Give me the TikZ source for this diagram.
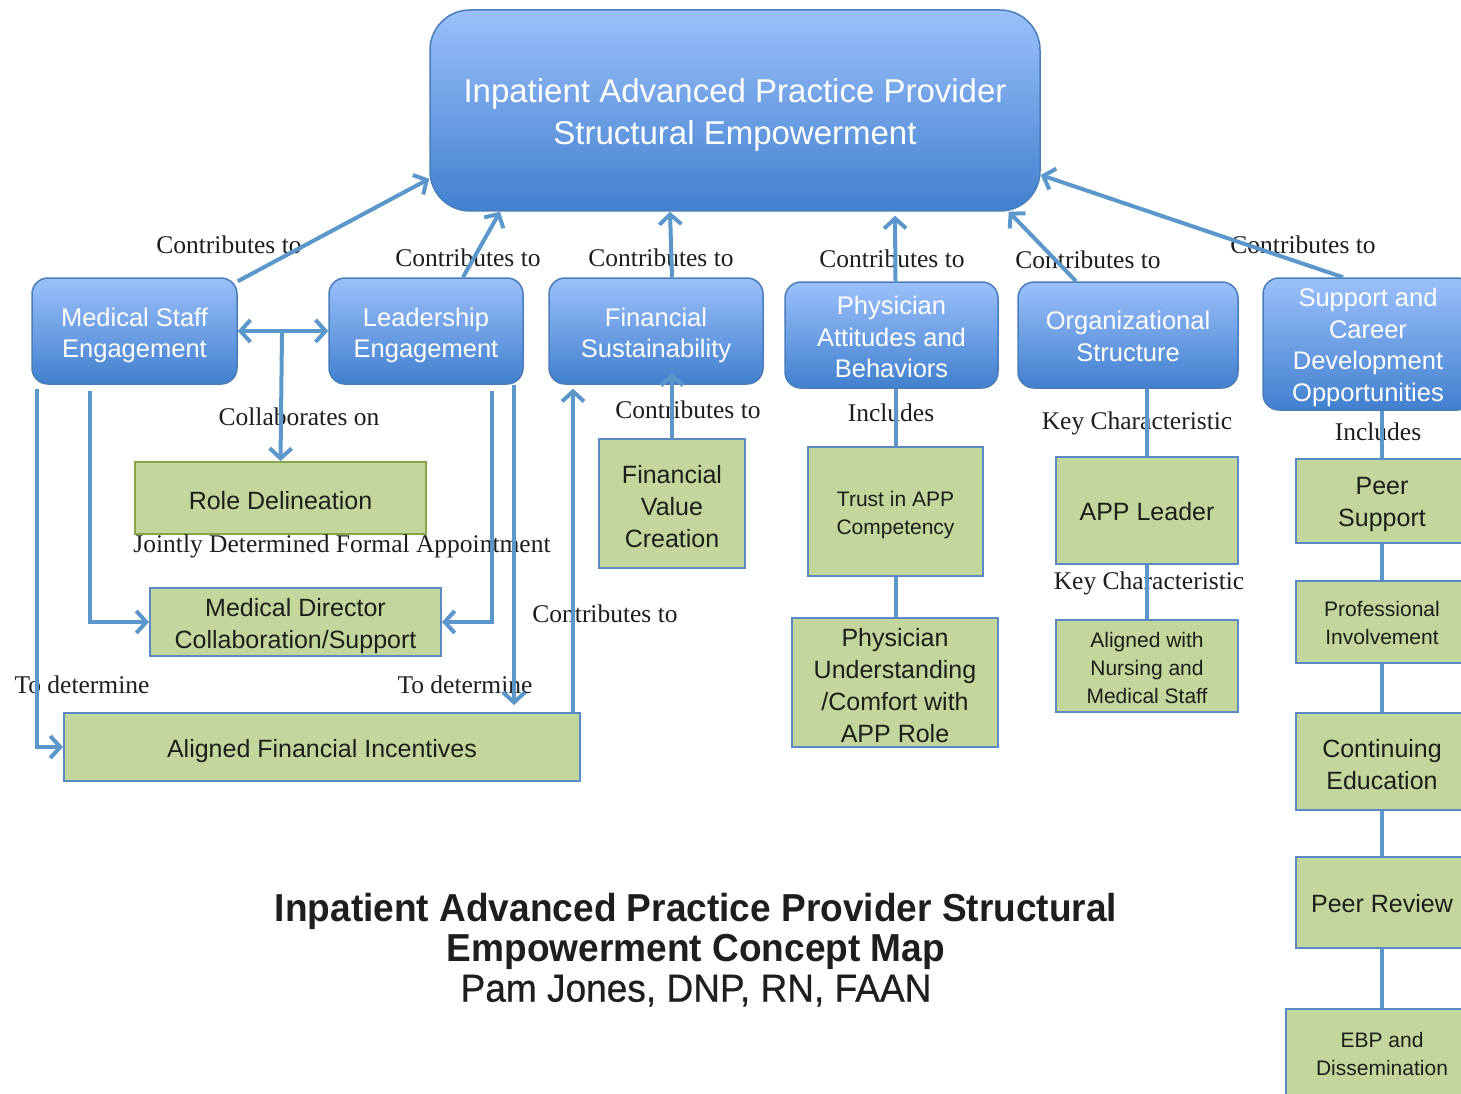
\documentclass[tikz,border=0pt]{standalone}
\usepackage{fontspec}
\usetikzlibrary{arrows.meta,calc}
\newfontfamily\sansf{Liberation Sans}
\newfontfamily\serf{Liberation Serif}
\newfontfamily\titf[FakeStretch=0.95]{Liberation Sans}
\newfontfamily\authf[FakeStretch=0.95,FakeBold=0.6]{Liberation Sans}
\newcommand\lift[1]{\rule{0pt}{\dimexpr0.75em+#1pt*2\relax}}
\definecolor{topblue}{HTML}{9BC0FB}
\definecolor{botblue}{HTML}{4180CE}
\definecolor{bborder}{HTML}{4A7EBB}
\definecolor{conn}{HTML}{5B97CB}
\definecolor{gfill}{HTML}{C3D69B}
\definecolor{gborder}{HTML}{5A8AC6}
\definecolor{oborder}{HTML}{88A548}
\definecolor{txt}{HTML}{1E1E1E}
\tikzset{
 bluebox/.style={rectangle, rounded corners=16pt, top color=topblue, bottom color=botblue, draw=bborder, line width=1.5pt, text=white, align=center, inner sep=0pt, font=\sansf\fontsize{25.5}{31.5}\selectfont},
 greenbox/.style={rectangle, fill=gfill, draw=gborder, line width=2pt, text=txt, align=center, inner sep=0pt, font=\sansf\fontsize{25}{32}\selectfont},
 smalltext/.style={font=\sansf\fontsize{21}{28}\selectfont},
 lbl/.style={font=\serf\fontsize{25.5}{30}\selectfont, text=txt, inner sep=0pt},
 conline/.style={draw=conn, line width=4pt},
 arr/.style={conline, -{Straight Barb[length=10pt,width=22pt]}},
 dblarr/.style={conline, {Straight Barb[length=10pt,width=22pt]}-{Straight Barb[length=10pt,width=22pt]}},
}
\begin{document}
\begin{tikzpicture}[x=1pt,y=-1pt]
\useasboundingbox (0,0) rectangle (1461,1094);
\clip (0,0) rectangle (1461,1094);
\fill[white] (0,0) rectangle (1461,1094);

% main concept
\node[bluebox, minimum width=610pt, minimum height=201pt, rounded corners=40pt, font=\sansf\fontsize{33}{42}\selectfont] (top) at (735,110.5) {\lift{4}Inpatient Advanced Practice Provider\\Structural Empowerment};

% second level
\node[bluebox, minimum width=205pt, minimum height=106pt] (ms) at (134.5,331) {\lift{4}Medical Staff\\Engagement};
\node[bluebox, minimum width=194pt, minimum height=106pt] (le) at (426,331) {\lift{4}Leadership\\Engagement};
\node[bluebox, minimum width=214pt, minimum height=106pt] (fs) at (656,331) {\lift{4}Financial\\Sustainability};
\node[bluebox, minimum width=213pt, minimum height=106pt] (pa) at (891.5,335) {\lift{2}Physician\\Attitudes and\\Behaviors};
\node[bluebox, minimum width=220pt, minimum height=106pt] (os) at (1128,335) {\lift{1}Organizational\\Structure};
\node[bluebox, minimum width=210pt, minimum height=132pt] (sc) at (1368,344) {\lift{3}Support and\\Career\\Development\\Opportunities};

% green boxes
\node[greenbox, draw=oborder, minimum width=291pt, minimum height=72pt] (rd) at (280.5,498) {\lift{2}Role Delineation};
\node[greenbox, minimum width=291pt, minimum height=68pt] (md) at (295.5,622) {\lift{4}Medical Director\\Collaboration/Support};
\node[greenbox, minimum width=516pt, minimum height=68pt] (afi) at (322,747) {\lift{4}Aligned Financial Incentives};
\node[greenbox, minimum width=146pt, minimum height=129pt] (fvc) at (672,503.5) {\lift{3}Financial\\Value\\Creation};
\node[greenbox, smalltext, minimum width=175pt, minimum height=129pt] (tr) at (895.5,511.5) {\lift{3}Trust in APP\\Competency};
\node[greenbox, minimum width=206pt, minimum height=129pt] (pu) at (895,682.5) {\lift{2.5}Physician\\Understanding\\/Comfort with\\APP Role};
\node[greenbox, minimum width=182pt, minimum height=107pt] (al) at (1147,510.5) {\lift{1}APP Leader};
\node[greenbox, smalltext, minimum width=182pt, minimum height=92pt] (an) at (1147,666) {\lift{2}Aligned with\\Nursing and\\Medical Staff};
\node[greenbox, minimum width=172pt, minimum height=84pt] (ps) at (1382,501) {\lift{3}Peer\\Support};
\node[greenbox, smalltext, minimum width=172pt, minimum height=82pt] (pi) at (1382,622) {\lift{1}Professional\\Involvement};
\node[greenbox, minimum width=172pt, minimum height=97pt] (ce) at (1382,761.5) {\lift{2.5}Continuing\\Education};
\node[greenbox, minimum width=172pt, minimum height=91pt] (pr) at (1382,902.5) {\lift{1}Peer Review};
\node[greenbox, smalltext, minimum width=192pt, minimum height=90pt] (ebp) at (1382,1054) {EBP and\\Dissemination};

% link labels
\node[lbl] (l1) at (229,245) {Contributes to};
\node[lbl] (l2) at (468,258) {Contributes to};
\node[lbl] (l3) at (661,258) {Contributes to};
\node[lbl] (l4) at (892,259) {Contributes to};
\node[lbl] (l5) at (1088,260) {Contributes to};
\node[lbl] (l6) at (1303,245) {Contributes to};
\node[lbl] (l7) at (299,417) {Collaborates on};
\node[lbl] (l8) at (342,546) {Jointly Determined Formal Appointment};
\node[lbl] (l9) at (82,685) {To determine};
\node[lbl] (l10) at (465,685) {To determine};
\node[lbl] (l11) at (605,614) {Contributes to};
\node[lbl] (l12) at (688,410) {Contributes to};
\node[lbl] (l13) at (891,413) {Includes};
\node[lbl] (l14) at (1137,423) {Key Characteristic};
\node[lbl] (l15) at (1149,583) {Key Characteristic};
\node[lbl] (l16) at (1378,432) {Includes};

% title
\node[font=\titf\fontsize{39}{40}\selectfont, text=txt, align=center, inner sep=0pt] (title) at (696,950) {\textbf{Inpatient Advanced Practice Provider Structural}\\\textbf{Empowerment Concept Map}\\{\authf Pam Jones, DNP, RN, FAAN}};

% connectors to the main concept
\draw[arr] ([yshift=-4pt]ms.north east) -- ([yshift=33pt]top.south west);
\draw[arr] ([xshift=37pt]le.north) -- ([xshift=-235pt]top.south);
\draw[arr] ([xshift=16pt]fs.north) -- ([xshift=-65pt]top.south);
\draw[arr] ([xshift=4pt]pa.north) -- ([xshift=160pt,yshift=-4pt]top.south);
\draw[arr] ([xshift=-52pt]os.north) -- ([xshift=-32pt]top.south east);
\draw[arr] ([xshift=-25pt]sc.north) -- ([yshift=-64.5pt]top.east);

% left cluster
\draw[dblarr] (ms.east) -- (le.west);
\coordinate (jn) at (282,333);
\draw[arr] (jn) -- (rd.north);
\draw[arr] ([xshift=-44.5pt,yshift=-6pt]ms.south) |- (md.west);
\draw[arr] ([xshift=66pt,yshift=-6pt]le.south) |- (md.east);
\draw[arr] ([xshift=-97.5pt,yshift=-4pt]ms.south) |- (afi.west);
\draw[arr] ([xshift=88pt]le.south) -- ([xshift=192pt,yshift=7pt]afi.north);
\draw[arr] ([xshift=251pt]afi.north) -- ([xshift=-83pt,yshift=-4pt]fs.south);
\draw[arr] (fvc.north) -- ([xshift=16pt,yshift=12pt]fs.south);

% plain links
\draw[conline] (tr.north |- pa.south) -- (tr.north);
\draw[conline] (tr.south) -- (tr.south |- pu.north);
\draw[conline] (al.north |- os.south) -- (al.north);
\draw[conline] (al.south) -- (an.north);
\draw[conline] (ps.north |- sc.south) -- (ps.north);
\draw[conline] (ps.south) -- (pi.north);
\draw[conline] (pi.south) -- (ce.north);
\draw[conline] (ce.south) -- (pr.north);
\draw[conline] (pr.south) -- (ebp.north);
\end{tikzpicture}
\end{document}
